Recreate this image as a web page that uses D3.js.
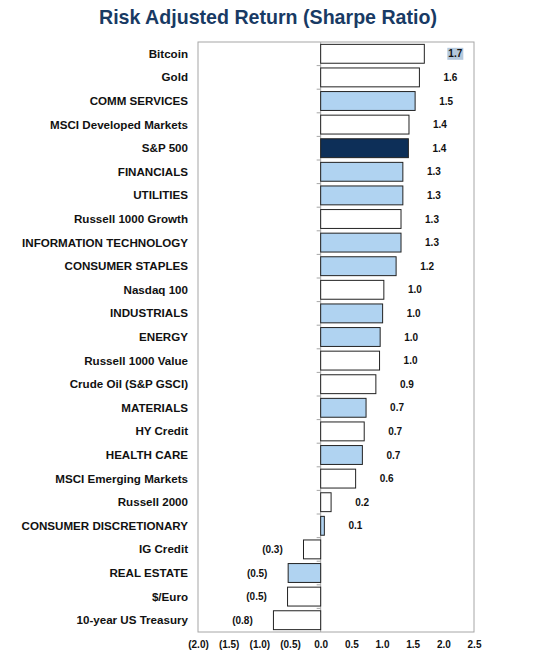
<!DOCTYPE html>
<html>
<head>
<meta charset="utf-8">
<script src="https://cdn.jsdelivr.net/npm/d3@7"></script>
<style>
  body { margin: 0; background: #fff; }
  svg { font-family: "Liberation Sans", Arial, sans-serif; }
  .title { font-weight: bold; fill: #183a64; }
  .cat, .val, .tick text { font-weight: bold; fill: #111; }
</style>
</head>
<body>
<svg id="chart" width="534" height="666"></svg>
<script>
// categories top to bottom
const names = ["Bitcoin", "Gold", "COMM SERVICES", "MSCI Developed Markets", "S&P 500",
  "FINANCIALS", "UTILITIES", "Russell 1000 Growth", "INFORMATION TECHNOLOGY", "CONSUMER STAPLES",
  "Nasdaq 100", "INDUSTRIALS", "ENERGY", "Russell 1000 Value", "Crude Oil (S&P GSCI)",
  "MATERIALS", "HY Credit", "HEALTH CARE", "MSCI Emerging Markets", "Russell 2000",
  "CONSUMER DISCRETIONARY", "IG Credit", "REAL ESTATE", "$/Euro", "10-year US Treasury"];
const sharpe = [1.69, 1.61, 1.54, 1.44, 1.43, 1.34, 1.34, 1.31, 1.31, 1.23,
  1.03, 1.01, 0.97, 0.96, 0.90, 0.74, 0.71, 0.68, 0.57, 0.17,
  0.06, -0.28, -0.53, -0.54, -0.77];
// kind: "idx" = index/asset, "sec" = sector, "spx" = S&P 500
const kinds = ["idx", "idx", "sec", "idx", "spx", "sec", "sec", "idx", "sec", "sec",
  "idx", "sec", "sec", "idx", "idx", "sec", "idx", "sec", "idx", "idx",
  "sec", "idx", "sec", "idx", "idx"];
const xTicks = [-2.0, -1.5, -1.0, -0.5, 0.0, 0.5, 1.0, 1.5, 2.0, 2.5];

const rows = names.map((n, i) => ({ name: n, value: sharpe[i], kind: kinds[i] }));
const fills = { idx: "#ffffff", sec: "#b0d3f1", spx: "#0d2f58" };

const svg = d3.select("#chart");
const margin = { top: 42, left: 198, right: 60, bottom: 34 };
const W = 534, H = 666;
const innerW = W - margin.left - margin.right;
const innerH = H - margin.top - margin.bottom;

const fmt = v => {
  const s = Math.abs(v).toFixed(1);
  return v < 0 ? "(" + s + ")" : s;
};

svg.append("text")
  .attr("class", "title")
  .attr("x", 268).attr("y", 24)
  .attr("text-anchor", "middle")
  .attr("textLength", 338)
  .attr("lengthAdjust", "spacingAndGlyphs")
  .style("font-size", "21px")
  .text("Risk Adjusted Return (Sharpe Ratio)");

const x = d3.scaleLinear().domain([-2, 2.5]).range([0, innerW]);
const y = d3.scaleBand().domain(names).range([0, innerH]).paddingInner(0.2).paddingOuter(0.1);

const g = svg.append("g").attr("transform", `translate(${margin.left},${margin.top})`);

// plot frame
g.append("rect")
  .attr("width", innerW).attr("height", innerH)
  .attr("fill", "none").attr("stroke", "#a6a6a6").attr("stroke-width", 1);

// zero line with minor ticks between rows
g.append("line")
  .attr("x1", x(0)).attr("x2", x(0)).attr("y1", 0).attr("y2", innerH)
  .attr("stroke", "#a6a6a6");
g.selectAll(".ztick")
  .data(names.slice(1))
  .enter().append("line")
  .attr("x1", x(0) - 4).attr("x2", x(0))
  .attr("y1", d => y(d) - y.step() * y.paddingInner() / 2)
  .attr("y2", d => y(d) - y.step() * y.paddingInner() / 2)
  .attr("stroke", "#a6a6a6");

// bars
g.selectAll(".bar")
  .data(rows)
  .enter().append("rect")
  .attr("x", d => x(Math.min(0, d.value)))
  .attr("y", d => y(d.name))
  .attr("width", d => Math.abs(x(d.value) - x(0)))
  .attr("height", y.bandwidth())
  .attr("fill", d => fills[d.kind])
  .attr("stroke", "#222")
  .attr("stroke-width", 1);

// highlight behind Bitcoin label
const b = rows[0];
g.append("rect")
  .attr("x", x(b.value) + 23).attr("y", y(b.name) + y.bandwidth() / 2 - 6)
  .attr("width", 16).attr("height", 12)
  .attr("fill", "#b4c8dc");

// value labels
g.selectAll(".val")
  .data(rows)
  .enter().append("text")
  .attr("class", "val")
  .attr("x", d => x(d.value) + (d.value < 0 ? -31 : 31))
  .attr("y", d => y(d.name) + y.bandwidth() / 2)
  .attr("dy", "0.35em")
  .attr("text-anchor", "middle")
  .style("font-size", "10px")
  .text(d => fmt(d.value));

// category labels
g.selectAll(".cat")
  .data(rows)
  .enter().append("text")
  .attr("class", "cat")
  .attr("x", -10)
  .attr("y", d => y(d.name) + y.bandwidth() / 2)
  .attr("dy", "0.35em")
  .attr("text-anchor", "end")
  .style("font-size", "11.6px")
  .text(d => d.name);

// x axis
const ax = g.append("g")
  .attr("transform", `translate(0,${innerH})`)
  .call(d3.axisBottom(x).tickValues(xTicks).tickSize(0).tickPadding(9).tickFormat(fmt));
ax.select(".domain").remove();
ax.selectAll("text").style("font-size", "10px").style("font-family", "Liberation Sans, Arial, sans-serif");
</script>
</body>
</html>
